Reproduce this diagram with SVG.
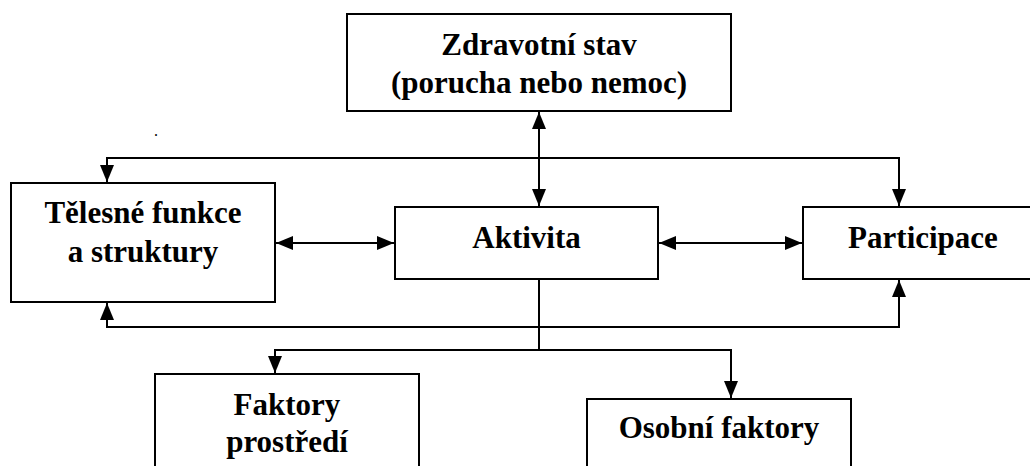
<svg xmlns="http://www.w3.org/2000/svg" width="1030" height="466" viewBox="0 0 1030 466">
<style>
.box{fill:#fff;stroke:#000;stroke-width:2}
.t{font-family:'Liberation Serif';font-weight:700;font-size:31px;fill:#000;text-anchor:middle}
.c{fill:none;stroke:#000;stroke-width:2}
</style>
<defs>
<marker id="ah" markerUnits="userSpaceOnUse" markerWidth="17" markerHeight="14" refX="17" refY="7" orient="auto-start-reverse">
<path d="M0,0 L17,7 L0,14 z" fill="#000"/>
</marker>
</defs>
<rect width="1030" height="466" fill="#fff"/>
<g id="connectors">
<path class="c" d="M539,112 L539,206" marker-start="url(#ah)" marker-end="url(#ah)"/>
<path class="c" d="M539,158 L107,158 L107,182" marker-end="url(#ah)"/>
<path class="c" d="M539,158 L899,158 L899,206" marker-end="url(#ah)"/>
<path class="c" d="M276,243 L394,243" marker-start="url(#ah)" marker-end="url(#ah)"/>
<path class="c" d="M659,243 L802,243" marker-start="url(#ah)" marker-end="url(#ah)"/>
<path class="c" d="M107,303 L107,327 L899,327 L899,280" marker-start="url(#ah)" marker-end="url(#ah)"/>
<path class="c" d="M539,280 L539,350"/>
<path class="c" d="M539,350 L275,350 L275,373" marker-end="url(#ah)"/>
<path class="c" d="M539,350 L731,350 L731,398" marker-end="url(#ah)"/>
</g>
<g id="zdravotni">
<rect class="box" x="347" y="14" width="384" height="97"/>
<text class="t" x="539" y="55">Zdravotní stav</text>
<text class="t" x="539" y="93">(porucha nebo nemoc)</text>
</g>
<g id="telesne">
<rect class="box" x="11" y="183" width="264" height="119"/>
<text class="t" x="143" y="223">Tělesné funkce</text>
<text class="t" x="143" y="262">a struktury</text>
</g>
<g id="aktivita">
<rect class="box" x="395" y="207" width="263" height="72"/>
<text class="t" x="526.5" y="248">Aktivita</text>
</g>
<g id="participace">
<rect class="box" x="803" y="207" width="245" height="72"/>
<text class="t" x="923" y="248">Participace</text>
</g>
<g id="faktory">
<rect class="box" x="155" y="374" width="264" height="110"/>
<text class="t" x="287" y="415">Faktory</text>
<text class="t" x="287" y="452">prostředí</text>
</g>
<g id="osobni">
<rect class="box" x="587" y="399" width="264" height="90"/>
<text class="t" x="719" y="438">Osobní faktory</text>
</g>
<text x="156" y="136" style="font-family:'Liberation Serif';font-size:16px" fill="#000" text-anchor="middle">.</text>
</svg>
